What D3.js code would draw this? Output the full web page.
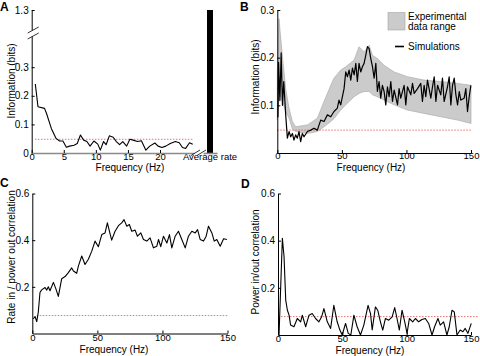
<!DOCTYPE html>
<html>
<head>
<meta charset="utf-8">
<script src="https://cdn.jsdelivr.net/npm/d3@7"></script>
<style>
  body { margin: 0; background: #fff; }
</style>
</head>
<body>
<svg id="fig"></svg>
<script>
// ---- data ----
// A: information vs frequency, plus the average-rate bar
const infoA = [[0.56,0.241],[0.98,0.162],[2.0,0.156],[2.3,0.139],[3.06,0.086],[3.8,0.051],[4.35,0.042],[4.87,0.042],
  [5.4,0.020],[5.9,0.024],[6.6,0.027],[7.1,0.033],[7.6,0.063],[8.1,0.045],[8.6,0.040],[9.1,0.024],[9.7,0.042],
  [10.3,0.031],[10.7,0.010],[11.2,0.040],[11.6,0.029],[12.1,0.060],[12.7,0.055],[13.2,0.040],[13.7,0.029],
  [14.2,0.040],[14.8,0.024],[15.3,0.048],[15.8,0.045],[16.5,0.040],[17.1,0.043],[17.8,0.010],[18.4,0.024],
  [19.2,0.035],[19.7,0.024],[20.3,0.019],[20.9,0.024],[21.6,0.033],[22.4,0.040],[23.0,0.036],[23.5,0.019],
  [24.0,0.016],[24.6,0.036],[25.1,0.031]];
const barLabel = ["Average rate"];
const barValue = [1.3];
const ticksAx = [0, 5, 10, 15, 20];
const ticksAy = [0, 0.1, 0.2, 0.3];
const ticksAyTop = [1.3];

// B: experimental range + simulation
const bandFreq = [0,1.3,3.9,6.5,9.1,11.7,14.2,23.3,31,36.2,41.4,43.9,49.1,53,59.5,63.3,67.2,71.1,73.7,77.5,82.7,90.5,100.8,113.7,126.6,139.6,150];
const bandHigh = [0.17,0.282,0.205,0.135,0.094,0.066,0.055,0.059,0.073,0.108,0.142,0.157,0.174,0.181,0.195,0.223,0.212,0.226,0.205,0.198,0.184,0.170,0.160,0.153,0.150,0.146,0.142];
const bandLow  = [0.07,0.129,0.108,0.087,0.073,0.050,0.045,0.041,0.045,0.055,0.066,0.072,0.090,0.101,0.118,0.125,0.129,0.129,0.122,0.118,0.111,0.101,0.090,0.083,0.076,0.069,0.062];
const simB = [[0.5,0.075],[1,0.19],[2,0.11],[3,0.21],[4,0.10],[5,0.15],[6.5,0.08],[7.8,0.031],[9.1,0.045],
  [10.4,0.034],[11.7,0.041],[12.9,0.027],[14.2,0.038],[15.5,0.031],[16.8,0.045],[18.1,0.024],[19.4,0.041],
  [20.7,0.034],[23.3,0.045],[25.9,0.048],[28.4,0.052],[31,0.048],[33.6,0.069],[36.2,0.066],[38.8,0.080],
  [41.4,0.076],[43.9,0.087],[46.5,0.094],[47.8,0.111],[49.1,0.101],[51.7,0.135],[53,0.170],[54.3,0.160],
  [55.6,0.174],[56.9,0.153],[58.2,0.178],[59.5,0.164],[60.8,0.188],[62,0.150],[63.3,0.188],[64.6,0.170],
  [65.9,0.181],[67.2,0.188],[68.5,0.205],[69.8,0.223],[71.1,0.219],[72.4,0.198],[73.7,0.181],[75,0.157],
  [76.3,0.188],[77.5,0.129],[78.8,0.150],[80.1,0.115],[81.4,0.142],[82.7,0.129],[84,0.101],[85.3,0.139],
  [86.6,0.118],[87.9,0.150],[89.2,0.108],[90.5,0.132],[93.1,0.101],[94.3,0.135],[95.6,0.115],[98.2,0.142],
  [99.5,0.101],[100.8,0.139],[103.4,0.122],[104.7,0.146],[106,0.125],[108.6,0.135],[111.1,0.146],[112.4,0.108],
  [113.7,0.142],[115,0.118],[116.3,0.153],[118.9,0.115],[120.2,0.139],[121.5,0.160],[122.8,0.108],[124.1,0.142],
  [126.6,0.122],[127.9,0.157],[129.2,0.108],[131.8,0.139],[133.1,0.160],[134.4,0.101],[135.7,0.142],[137,0.157],
  [138.3,0.122],[139.6,0.101],[140.9,0.129],[142.1,0.111],[144.7,0.115],[146,0.135],[147.3,0.087],[148.6,0.118],
  [149.9,0.142]];

// C: rate in / power out correlation
const corrC = [[0.8,0.063],[2.1,0.073],[3.4,0.051],[4.6,0.091],[5.9,0.176],[7.2,0.187],[9.8,0.197],[11.1,0.186],
  [12.3,0.200],[13.6,0.183],[16.2,0.219],[18.2,0.190],[20,0.159],[22.6,0.235],[25.2,0.244],[27.7,0.261],
  [30.3,0.281],[31.6,0.268],[34.1,0.258],[35.4,0.289],[38,0.332],[40.5,0.296],[43.1,0.318],[45.7,0.353],
  [48.2,0.396],[50.8,0.372],[53.4,0.424],[55.9,0.431],[57.7,0.474],[59.3,0.438],[61,0.400],[63.6,0.438],
  [66.2,0.462],[68.7,0.474],[70.5,0.488],[72.6,0.460],[74.6,0.467],[76.4,0.438],[79,0.443],[80.8,0.417],
  [83.4,0.431],[85.4,0.403],[88,0.396],[90.5,0.410],[93.1,0.367],[95.7,0.374],[97,0.403],[98.7,0.372],
  [100.8,0.417],[103.4,0.388],[105.4,0.424],[107.2,0.367],[109.8,0.417],[112.3,0.438],[114.9,0.403],
  [117.5,0.367],[120,0.417],[122.6,0.438],[125.2,0.431],[127,0.445],[129,0.403],[131.6,0.396],[133.6,0.417],
  [135.4,0.460],[138,0.431],[139.8,0.396],[141.8,0.403],[144.4,0.374],[147,0.406],[149.5,0.403]];

// D: power in/out correlation
const corrD = [[0.8,0],[3.4,0.41],[4.7,0.332],[6,0.148],[7.3,0.105],[8.6,0.084],[9.8,0.042],[12.4,0.035],
  [15,0.070],[17.6,0.056],[18.9,0.084],[21.5,0.035],[24.1,0.084],[26.6,0.091],[29.2,0.070],[31.8,0.056],
  [33.9,0.077],[35.7,0.112],[38.3,0.056],[40.9,0.028],[43.4,0.126],[46,0.056],[48.1,0.021],[49.9,0],
  [52.5,0.049],[54.6,0.007],[56.6,0],[59,0.084],[61.5,0.035],[64.1,0],[66.7,0.042],[70,0.126],[71.9,0.091],
  [73.2,0.021],[75.7,0.119],[77.5,0.105],[79.6,0.056],[81.4,0.021],[83.5,0.070],[86.1,0.063],[88.7,0.077],
  [90.7,0.116],[92.5,0.070],[94.3,0.021],[96.4,0.105],[98.5,0.056],[100.3,0.007],[102.1,0.070],[104.7,0.056],
  [106.8,0.070],[109.3,0.056],[111.9,0.066],[114.5,0.070],[117.1,0.049],[119.7,0],[121.7,0.035],[124.3,0.070],
  [126.1,0.042],[128.7,0.056],[131.3,0],[133.1,0.035],[135.2,0.105],[137,0.098],[139.1,0],[141.6,0.021],
  [143.7,0.014],[145.5,0.028],[147.6,0.007],[150.2,0.049]];

// significance levels (red dotted) : [from Hz, to Hz, value]
const threshA = [0.5, 25.1, 0.048];
const threshB = [0, 150, 0.048];
const threshC = [3.4, 150, 0.077];
const threshD = [0, 156, 0.078];

const ticksFreq = [0, 50, 100, 150];

// ---- drawing ----
const W = 480, H = 356;
const font = "'Liberation Sans', Arial, Helvetica, sans-serif";
const svg = d3.select("#fig").attr("width", W).attr("height", H);
svg.append("rect").attr("width", W).attr("height", H).attr("fill", "#fff");

function styleAxis(g, size) {
  g.attr("font-family", font).attr("font-size", size || 10);
  g.selectAll("text").attr("fill", "#000");
  g.selectAll("line,path").attr("stroke", "#000");
}
const styleX = g => styleAxis(g, 9.5);
const fmt = d => d === 0 ? "0" : d.toFixed(1);

function thresh(x, y, t) {
  svg.append("line")
    .attr("x1", x(t[0])).attr("x2", x(t[1]))
    .attr("y1", y(t[2])).attr("y2", y(t[2]))
    .attr("stroke", "#e0504a").attr("stroke-width", 0.8)
    .attr("stroke-dasharray", "1.5,1.5");
}
function curve(x, y, data, w) {
  svg.append("path").datum(data)
    .attr("d", d3.line().x(d => x(d[0])).y(d => y(d[1])))
    .attr("fill", "none").attr("stroke", "#000")
    .attr("stroke-width", w).attr("stroke-linejoin", "round");
}
function ylabel(txt, x, y) {
  svg.append("text").attr("transform", `translate(${x},${y}) rotate(-90)`)
    .attr("text-anchor", "middle").attr("font-family", font).attr("font-size", 10)
    .text(txt);
}
function xlabel(txt, x, y) {
  svg.append("text").attr("x", x).attr("y", y)
    .attr("text-anchor", "middle").attr("font-family", font).attr("font-size", 10)
    .text(txt);
}
function letter(txt, x, y) {
  svg.append("text").attr("x", x).attr("y", y)
    .attr("font-family", font).attr("font-size", 12).attr("font-weight", "bold")
    .text(txt);
}

// ---------- panel A ----------
const xA = d3.scaleLinear().domain([0, 25.3]).range([31.7, 194]);
const yA = d3.scaleLinear().domain([0, 0.409]).range([153, 36]);
const yAtop = d3.scaleLinear().domain([1.24, 1.3]).range([30, 10]);
const xAbar = d3.scaleBand().domain(barLabel).range([203, 217]).padding(0.4);

thresh(xA, yA, threshA);
curve(xA, yA, infoA, 1.1);

svg.selectAll(".barA").data(barLabel).join("rect")
  .attr("x", d => xAbar(d)).attr("width", xAbar.bandwidth())
  .attr("y", (d, i) => yAtop(barValue[i]))
  .attr("height", (d, i) => yA(0) - yAtop(barValue[i]))
  .attr("fill", "#000");

svg.append("g").attr("transform", `translate(${xA.range()[0]},0)`)
  .call(d3.axisLeft(yA).tickValues(ticksAy).tickFormat(fmt).tickSize(-3).tickSizeOuter(0).tickPadding(3))
  .call(styleAxis);
svg.append("g").attr("transform", `translate(${xA.range()[0]},0)`)
  .call(d3.axisLeft(yAtop).tickValues(ticksAyTop).tickFormat(fmt).tickSize(-3).tickSizeOuter(0).tickPadding(3))
  .call(styleAxis);
svg.append("g").attr("transform", `translate(0,${yA(0)})`)
  .call(d3.axisBottom(xA).tickValues(ticksAx).tickSize(-3).tickSizeOuter(0).tickPadding(0))
  .call(styleX)
  .call(g => g.select(".domain").attr("stroke", "#8a8a8a").attr("stroke-width", 1.6));
svg.append("g").attr("transform", `translate(0,${yA(0)})`)
  .call(d3.axisBottom(xAbar).tickSize(0).tickPadding(0))
  .call(styleX)
  .call(g => g.select(".domain").attr("stroke", "#8a8a8a").attr("stroke-width", 1.6));

// axis breaks
const brk = svg.append("g").attr("stroke", "#000").attr("stroke-width", 0.8);
[yAtop.range()[0], yA.range()[1]].forEach(yy => {
  brk.append("line").attr("x1", xA.range()[0] - 4).attr("y1", yy + 3)
    .attr("x2", xA.range()[0] + 7).attr("y2", yy - 3);
});
[xA.range()[1] + 1, xAbar.range()[0] - 2].forEach(xx => {
  brk.append("line").attr("x1", xx - 4).attr("y1", yA(0) + 2.5)
    .attr("x2", xx + 5).attr("y2", yA(0) - 3);
});

ylabel("Information (bits)", 15, 81);
xlabel("Frequency (Hz)", 130, 171);
letter("A", 0, 11);

// ---------- panel B ----------
const xB = d3.scaleLinear().domain([0, 150]).range([277.3, 471]);
const yB = d3.scaleLinear().domain([0, 0.3]).range([153, 10]);
const band = bandFreq.map((f, i) => [f, bandLow[i], bandHigh[i]]);

svg.append("path").datum(band)
  .attr("d", d3.area().x(d => xB(d[0])).y0(d => yB(d[1])).y1(d => yB(d[2])))
  .attr("fill", "#cbcbcb").attr("stroke", "#a5a5a5").attr("stroke-width", 0.6);
thresh(xB, yB, threshB);
curve(xB, yB, simB, 1.2);

svg.append("g").attr("transform", `translate(${xB.range()[0]},0)`)
  .call(d3.axisLeft(yB).tickValues([0.1, 0.2, 0.3]).tickFormat(fmt).tickSize(-3).tickSizeOuter(0).tickPadding(3))
  .call(styleAxis);
svg.append("g").attr("transform", `translate(0,${yB(0)})`)
  .call(d3.axisBottom(xB).tickValues(ticksFreq).tickSize(-3).tickSizeOuter(0).tickPadding(-0.5))
  .call(styleX);

// legend
const lg = svg.append("g").attr("font-family", font).attr("font-size", 10);
lg.append("rect").attr("x", 388).attr("y", 12.5).attr("width", 17).attr("height", 17.5)
  .attr("fill", "#cbcbcb").attr("stroke", "#a5a5a5").attr("stroke-width", 0.6);
lg.append("text").attr("x", 408).attr("y", 19.5).text("Experimental");
lg.append("text").attr("x", 408).attr("y", 30).text("data range");
lg.append("line").attr("x1", 395).attr("x2", 404).attr("y1", 46.5).attr("y2", 46.5)
  .attr("stroke", "#000").attr("stroke-width", 1.6);
lg.append("text").attr("x", 408).attr("y", 50).text("Simulations");

ylabel("Information (bits)", 259, 77);
xlabel("Frequency (Hz)", 371, 170.5);
letter("B", 240, 11);

// ---------- panel C ----------
const xC = d3.scaleLinear().domain([0, 150]).range([32.3, 227.5]);
const yC = d3.scaleLinear().domain([0, 0.6]).range([333.5, 193.5]);
thresh(xC, yC, threshC);
curve(xC, yC, corrC, 1.1);
svg.append("g").attr("transform", `translate(${xC.range()[0]},0)`)
  .call(d3.axisLeft(yC).tickValues([0.2, 0.4, 0.6]).tickFormat(fmt).tickSize(-3).tickSizeOuter(0).tickPadding(3))
  .call(styleAxis);
svg.append("g").attr("transform", `translate(0,${yC(0)})`)
  .call(d3.axisBottom(xC).tickValues(ticksFreq).tickSize(-3).tickSizeOuter(0).tickPadding(0.5))
  .call(styleX);
ylabel("Rate in / power out correlation", 15, 257);
xlabel("Frequency (Hz)", 114, 353);
letter("C", 0, 187);

// ---------- panel D ----------
const xD = d3.scaleLinear().domain([0, 150]).range([278, 471]);
const yD = d3.scaleLinear().domain([0, 0.6]).range([335, 193.5]);
thresh(xD, yD, threshD);
curve(xD, yD, corrD, 1.1);
svg.append("g").attr("transform", `translate(${xD.range()[0]},0)`)
  .call(d3.axisLeft(yD).tickValues([0.2, 0.4, 0.6]).tickFormat(fmt).tickSize(-3).tickSizeOuter(0).tickPadding(3))
  .call(styleAxis);
svg.append("g").attr("transform", `translate(0,${yD(0)})`)
  .call(d3.axisBottom(xD).tickValues(ticksFreq).tickSize(-3).tickSizeOuter(0).tickPadding(0))
  .call(styleX);
ylabel("Power in/out correlation", 259, 262);
xlabel("Frequency (Hz)", 370, 353.5);
letter("D", 241, 188);
</script>
</body>
</html>
